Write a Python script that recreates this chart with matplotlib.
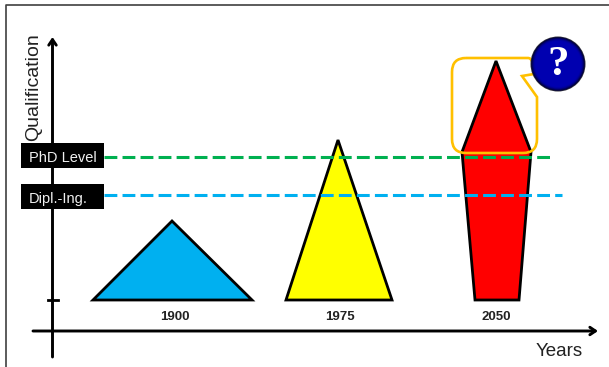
#!/usr/bin/python
import matplotlib
matplotlib.use("Agg")
import matplotlib.pyplot as plt
from matplotlib.patches import Polygon, Circle, PathPatch, Rectangle
from matplotlib.path import Path
import numpy as np

plt.rcParams['font.family'] = ['Liberation Sans', 'DejaVu Sans']

years = ["1900", "1975", "2050"]
year_x = [175, 340, 496]
colors = ["#00b0f0", "#ffff00", "#ff0000"]

# outline of each era: horizontal position against qualification height
blue_x = [93, 172, 252]
blue_q = [0, 79, 0]
yellow_x = [286, 338, 392]
yellow_q = [0, 160, 0]
red_x = [475, 462, 496, 531, 519]
red_q = [0, 148, 239, 148, 0]

levels = ["PhD Level", "Dipl.-Ing."]
level_q = [143, 105.5]
level_end = [554, 562]
level_colors = ["#00b050", "#00b0f0"]
box_bottom = [132, 91]

fig = plt.figure(figsize=(6.09, 3.67), dpi=100)
ax = fig.add_axes([0, 0, 1, 1])
ax.set_xlim(0, 609)
ax.set_ylim(-67, 300)
ax.set_axis_off()

# picture frame
ax.plot([5.5, 5.5, 609], [-67, 295, 295], color="#404040", lw=1.2, solid_capstyle="butt")

# axes with arrow heads
head = dict(arrowstyle="->,head_width=0.27,head_length=0.4", color="black", lw=2.1, shrinkA=0, shrinkB=0)
ax.annotate("", xy=(52.5, 263), xytext=(52.5, -57), arrowprops=head)
ax.annotate("", xy=(598, -31), xytext=(33, -31), arrowprops=head)
ax.plot([47.5, 58], [0, 0], color="black", lw=2)

# era shapes
shapes = [(blue_x, blue_q), (yellow_x, yellow_q), (red_x, red_q)]
for (xs, qs), c in zip(shapes, colors):
    ax.add_patch(Polygon(np.column_stack([xs, qs]), closed=True, facecolor=c,
                         edgecolor="black", lw=2.0, joinstyle="miter"))

for lab, x in zip(years, year_x):
    ax.text(x, -17, lab, ha="center", va="center", fontsize=9.5, fontweight="bold", color="#222222")

# qualification levels
for lab, q, end, c, b in zip(levels, level_q, level_end, level_colors, box_bottom):
    ax.plot([104, end], [q, q], color=c, lw=2.2, dashes=(4.2, 1.7))
    ax.add_patch(Rectangle((21, b), 83, 25, facecolor="black", edgecolor="none", zorder=4))
    ax.text(29, b + 6, lab, ha="left", va="baseline", fontsize=10.5, color="#f0f0f0", zorder=5)

ax.text(33.5, 212.5, "Qualification", rotation=90, ha="center", va="center", fontsize=14, color="#222222")
ax.text(559, -51, "Years", ha="center", va="center", fontsize=13.5, color="#222222")

# speech bubble around the top of the red shape
left, right, top, bottom, r = 452, 537, 242, 147, 14
verts = [(left + r, top), (528, top), (534, top), (534, 226), (522, 224), (537, 203),
         (right, bottom + r), (right, bottom), (right - r, bottom), (left + r, bottom),
         (left, bottom), (left, bottom + r), (left, top - r), (left, top), (left + r, top)]
codes = [Path.MOVETO, Path.LINETO, Path.CURVE3, Path.CURVE3, Path.LINETO, Path.LINETO,
         Path.LINETO, Path.CURVE3, Path.CURVE3, Path.LINETO,
         Path.CURVE3, Path.CURVE3, Path.LINETO, Path.CURVE3, Path.CURVE3]
ax.add_patch(PathPatch(Path(verts, codes), facecolor="none", edgecolor="#ffc000", lw=1.9,
                       joinstyle="miter", zorder=3))

# question mark badge, shaded with nested discs
for rad, shade in zip(np.linspace(27.5, 23, 7),
                      ["#30303a", "#000040", "#000060", "#000080", "#000098", "#0000a8", "#0000b0"]):
    ax.add_patch(Circle((558, 236), rad, facecolor=shade, edgecolor="none", zorder=6))
ax.text(558, 235, "?", ha="center", va="center", fontsize=31, fontweight="bold",
        family=["Liberation Serif", "DejaVu Serif"], color="white", zorder=7)

fig.savefig("out.png", dpi=100)
